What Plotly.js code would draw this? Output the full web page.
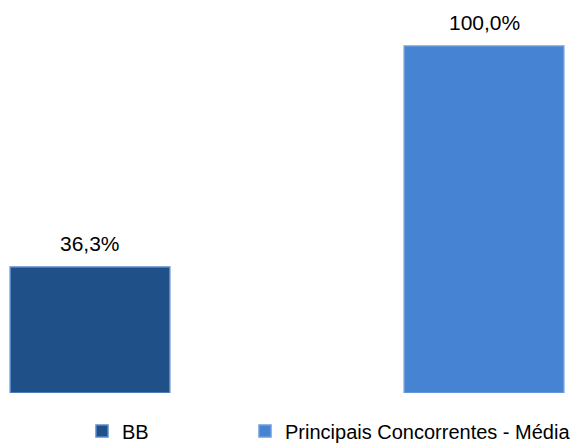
<!DOCTYPE html>
<html>
<head>
<meta charset="utf-8">
<script src="https://cdn.plot.ly/plotly-3.0.1.min.js"></script>
<style>html,body{margin:0;padding:0;background:#fff;}#chart{width:584px;height:445px;}</style>
</head>
<body>
<div id="chart"></div>
<script>
var seriesNames = ["BB", "Principais Concorrentes - Média"];
var seriesValues = [36.3, 100.0];
var valueLabels = ["36,3%", "100,0%"];
var fillColors = ["#1F5088", "#4684D3"];
var lineColors = ["#5A8BCB", "#6E9DDB"];
var legendIds = ["legend", "legend2"];

var traces = seriesNames.map(function (name, i) {
  return {
    type: "bar",
    name: name,
    x: [i],
    y: [seriesValues[i]],
    width: 0.405,
    legend: legendIds[i],
    marker: { color: fillColors[i], line: { color: lineColors[i], width: 1.5 } },
    hoverinfo: "none"
  };
});

var annotations = seriesNames.map(function (name, i) {
  return {
    x: i, y: seriesValues[i], xref: "x", yref: "y",
    text: valueLabels[i], showarrow: false,
    yanchor: "bottom", yshift: 10,
    font: { family: "Liberation Sans, Arial, sans-serif", size: 21, color: "#000" }
  };
});

var legendFont = { family: "Liberation Sans, Arial, sans-serif", size: 20, color: "#000" };

var layout = {
  width: 584, height: 445,
  margin: { l: 0, r: 0, t: 0, b: 52, pad: 0, autoexpand: false },
  paper_bgcolor: "#fff", plot_bgcolor: "#fff",
  showlegend: true,
  barmode: "overlay",
  xaxis: { range: [-0.2284, 1.2538], visible: false, fixedrange: true },
  yaxis: { range: [0, 113.26], visible: false, fixedrange: true },
  annotations: annotations,
  legend: {
    orientation: "h", x: 82 / 584, xanchor: "left", y: -0.047, yanchor: "top",
    font: legendFont, itemclick: false, itemdoubleclick: false
  },
  legend2: {
    orientation: "h", x: 245 / 584, xanchor: "left", y: -0.047, yanchor: "top",
    font: legendFont, itemclick: false, itemdoubleclick: false
  },
  font: { family: "Liberation Sans, Arial, sans-serif" }
};

Plotly.newPlot("chart", traces, layout, { displayModeBar: false, staticPlot: true });
</script>
</body>
</html>
